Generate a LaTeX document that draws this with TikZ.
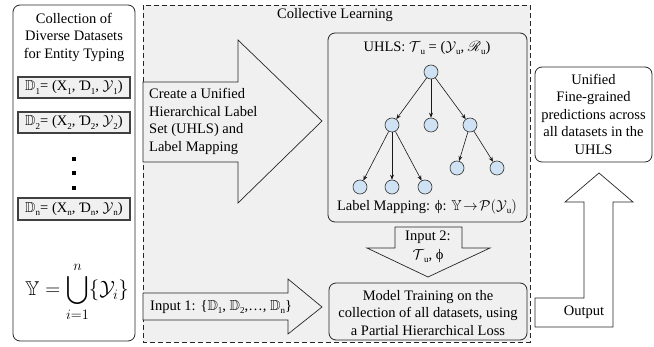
\documentclass[tikz,border=0pt]{standalone}
\usepackage{amssymb}
\usepackage{mathrsfs}
\usepackage{fontspec}
\setmainfont{Liberation Serif}
\usetikzlibrary{arrows.meta}
\definecolor{bggray}{HTML}{F0F0F0}
\definecolor{nodeblue}{HTML}{CFE2F3}
\newcommand\lsub[1]{\raisebox{-0.5ex}{\fontsize{9}{9}\selectfont #1}}
\tikzset{
  txt/.style={font=\fontsize{14.5}{17.5}\selectfont, inner sep=0pt, align=center},
  roundbox/.style={draw=black!85, line width=0.8pt, rounded corners=7pt},
  dsbox/.style={draw=black!75, line width=1.1pt, fill=bggray},
  fatarrow/.style={draw=black!85, line width=0.7pt, line join=miter},
  tnode/.style={circle, draw=black!80, line width=0.6pt, fill=nodeblue, minimum size=14pt, inner sep=0pt},
  tedge/.style={-{Stealth[length=5pt,width=4pt]}, line width=0.6pt, black!90},
  dotsq/.style={fill=black, minimum size=3.5pt, inner sep=0pt, draw=none}
}
\begin{document}
\begin{tikzpicture}[x=1pt,y=-1pt]
\useasboundingbox (0,0) rectangle (654,347);
% left column
\draw[roundbox, fill=white] (13,5) rectangle (135,341);
\node[txt] (ltitle) at (74,37) {Collection of\\Diverse Datasets\\for Entity Typing};
\draw[dsbox] (18,77) rectangle (130,98);
\node[txt, font=\fontsize{14.5}{16}\selectfont] (d1) at (74,87.5) {$\mathbb{D}$\lsub{1}= (X\lsub{1}, Ɗ\lsub{1}, $\mathcal{Y}$\lsub{1})};
\draw[dsbox] (18,112) rectangle (130,133);
\node[txt, font=\fontsize{14.5}{16}\selectfont] (d2) at (74,122.5) {$\mathbb{D}$\lsub{2}= (X\lsub{2}, Ɗ\lsub{2}, $\mathcal{Y}$\lsub{2})};
\node[dotsq] (dot1) at (74,159) {};
\node[dotsq] (dot2) at (74,173) {};
\node[dotsq] (dot3) at (74,188) {};
\draw[dsbox] (18,198) rectangle (130,220);
\node[txt, font=\fontsize{14.5}{16}\selectfont] (dn) at (74,209) {$\mathbb{D}$\lsub{n}= (X\lsub{n}, Ɗ\lsub{n}, $\mathcal{Y}$\lsub{n})};
\node[txt, font=\fontsize{20}{24}\selectfont] (union) at (77,292) {$\displaystyle \mathbb{Y} = \bigcup_{i=1}^{n}\{\mathcal{Y}_i\}$};
% collective learning region
\draw[dashed, dash pattern=on 5pt off 3pt, line width=0.7pt, draw=black!85, fill=bggray] (143,5) rectangle (530,342);
\node[txt] (cltitle) at (335,15) {Collective Learning};
% big arrow
\draw[fatarrow, fill=bggray] (143,82) -- (238,82) -- (238,40) -- (322,121) -- (238,203) -- (238,162) -- (143,162) -- cycle;
\node[txt, align=left, anchor=west] (create) at (149,121.5) {Create a Unified\\Hierarchical Label\\Set (UHLS) and\\Label Mapping};
% UHLS box
\draw[roundbox, fill=bggray] (328,33) rectangle (527,222);
\node[txt] (uhls) at (427,48) {UHLS: $\mathcal{T}$\lsub{u} = ($\mathcal{Y}$\lsub{u}, $\mathscr{R}$\lsub{u})};
\node[tnode] (r) at (431,72) {};
\node[tnode] (a) at (392,125) {};
\node[tnode] (b) at (431,125) {};
\node[tnode] (c) at (470,125) {};
\node[tnode] (a1) at (360,187) {};
\node[tnode] (a2) at (392,187) {};
\node[tnode] (a3) at (425,187) {};
\node[tnode] (c1) at (457,168) {};
\node[tnode] (c2) at (497,168) {};
\draw[tedge] (r) -- (a);
\draw[tedge] (r) -- (b);
\draw[tedge] (r) -- (c);
\draw[tedge] (a) -- (a1);
\draw[tedge] (a) -- (a2);
\draw[tedge] (a) -- (a3);
\draw[tedge] (c) -- (c1);
\draw[tedge] (c) -- (c2);
\node[txt] (lmap) at (427,207) {Label Mapping: ϕ: $\mathbb{Y}\!\rightarrow\!\mathcal{P}(\mathcal{Y}$\lsub{u}$)$};
% input 2 arrow
\draw[fatarrow, fill=bggray] (395,227) -- (462,227) -- (462,248) -- (490,248) -- (428,277) -- (367,248) -- (395,248) -- cycle;
\node[txt] (in2) at (428,237) {Input 2:};
\node[txt] (in2b) at (428,256) {$\mathcal{T}$\lsub{u}, ϕ};
% model training box
\draw[roundbox, fill=bggray] (329,283) rectangle (527,340);
\node[txt] (train) at (428,313) {Model Training on the\\collection of all datasets, using\\a Partial Hierarchical Loss};
% input 1 arrow
\draw[fatarrow, fill=bggray] (143,293) -- (288,293) -- (288,279) -- (322,307) -- (288,334) -- (288,320) -- (143,320) -- cycle;
\node[txt, anchor=west] (in1) at (150,307) {Input 1: \{$\mathbb{D}$\lsub{1}, $\mathbb{D}$\lsub{2},…, $\mathbb{D}$\lsub{n}\}};
% output box
\draw[roundbox, fill=white] (535,67) rectangle (652,162);
\node[txt] (outb) at (593.5,114) {Unified\\Fine-grained\\predictions across\\all datasets in the\\UHLS};
% output arrow
\draw[fatarrow, fill=white] (535,298) -- (584,298) -- (584,202) -- (565,202) -- (599,173) -- (633,202) -- (613,202) -- (613,327) -- (535,327) -- cycle;
\node[txt] (outl) at (584,312) {Output};
\end{tikzpicture}
\end{document}
